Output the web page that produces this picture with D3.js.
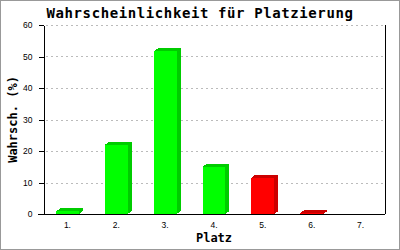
<!DOCTYPE html>
<html lang="de">
<head>
<meta charset="UTF-8">
<title>Wahrscheinlichkeit für Platzierung</title>
<script src="https://d3js.org/d3.v7.min.js"></script>
<style>
    body { margin: 0; background: #fff; }
    svg { display: block; font-family: "DejaVu Sans Mono", monospace; }
    .tick text { font-size: 8.5px; fill: #000; }
</style>
</head>
<body>
<svg width="400" height="250"></svg>
<script>
    // Werte
    const places = ["1.", "2.", "3.", "4.", "5.", "6.", "7."];
    const probs = [0.8, 21.9, 51.6, 15.0, 11.5, 0.3, 0];
    const yTicks = [0, 10, 20, 30, 40, 50, 60];
    const greenPlaces = 4; // Plätze 1-4 grün, Rest rot

    const W = 400, H = 250;
    const m = { left: 43, right: 385, top: 25, bottom: 214 };
    const depthX = 4, depthY = 3;

    const svg = d3.select("svg");

    // Rahmen
    svg.append("rect")
        .attr("x", 0.5).attr("y", 0.5)
        .attr("width", W - 1).attr("height", H - 1)
        .attr("fill", "#fff").attr("stroke", "#999");

    const x = d3.scaleBand()
        .domain(places)
        .range([m.left, m.right])
        .paddingInner(0.53)
        .paddingOuter(0.265);

    const y = d3.scaleLinear().domain([0, 60]).range([m.bottom, m.top]);

    // Gitterlinien
    svg.append("g")
        .selectAll("line")
        .data(yTicks.filter(d => d > 0))
        .enter()
        .append("line")
        .attr("x1", m.left + 3).attr("x2", m.right - 1)
        .attr("y1", d => Math.round(y(d)) + 0.5)
        .attr("y2", d => Math.round(y(d)) + 0.5)
        .attr("stroke", "#bbb")
        .attr("stroke-dasharray", "2,3");

    // Balken (3D)
    const bars = svg.append("g")
        .attr("shape-rendering", "crispEdges")
        .selectAll("g")
        .data(places.map((p, i) => ({ p: p, v: probs[i], i: i })).filter(d => d.v > 0))
        .enter()
        .append("g");

    const front = d => d.i < greenPlaces ? "#00ff00" : "#ff0000";
    const dark = d => d.i < greenPlaces ? "#00cc00" : "#cc0000";

    // Seite
    bars.append("polygon")
        .attr("fill", dark)
        .attr("points", d => {
            const x1 = x(d.p) + x.bandwidth(), yt = y(d.v), yb = y(0);
            return [[x1, yt], [x1 + depthX, yt - depthY], [x1 + depthX, yb - depthY], [x1, yb]].join(" ");
        });
    // Deckel
    bars.append("polygon")
        .attr("fill", dark)
        .attr("points", d => {
            const x0 = x(d.p), x1 = x0 + x.bandwidth(), yt = y(d.v);
            return [[x0, yt], [x0 + depthX, yt - depthY], [x1 + depthX, yt - depthY], [x1, yt]].join(" ");
        });
    // Front
    bars.append("rect")
        .attr("fill", front)
        .attr("x", d => x(d.p))
        .attr("y", d => y(d.v))
        .attr("width", x.bandwidth())
        .attr("height", d => y(0) - y(d.v));

    // Y-Achse
    const yAxis = svg.append("g")
        .attr("transform", `translate(${m.left + 0.5},0)`)
        .call(d3.axisLeft(y).tickValues(yTicks).tickSize(5).tickPadding(6).tickSizeOuter(0));
    yAxis.select(".domain").attr("stroke", "#000").attr("shape-rendering", "crispEdges");
    yAxis.selectAll(".tick line").attr("stroke", "#000").attr("shape-rendering", "crispEdges");

    // X-Achse
    const xAxis = svg.append("g")
        .attr("transform", `translate(0,${m.bottom + 0.5})`)
        .call(d3.axisBottom(x).tickSize(0).tickPadding(7).tickSizeOuter(0));
    xAxis.select(".domain").remove();
    svg.append("line")
        .attr("x1", m.left - 5).attr("x2", m.right)
        .attr("y1", m.bottom + 0.5).attr("y2", m.bottom + 0.5)
        .attr("stroke", "#000");

    // rechte Linie
    svg.append("line")
        .attr("x1", m.right + 0.5).attr("x2", m.right + 0.5)
        .attr("y1", m.top).attr("y2", m.bottom)
        .attr("stroke", "#000");

    // Titel und Beschriftungen
    svg.append("text")
        .attr("x", 200).attr("y", 17.5)
        .attr("text-anchor", "middle")
        .attr("font-size", 14).attr("font-weight", "bold")
        .attr("letter-spacing", 0.6)
        .text("Wahrscheinlichkeit für Platzierung");

    svg.append("text")
        .attr("x", (m.left + m.right) / 2).attr("y", 242)
        .attr("text-anchor", "middle")
        .attr("font-size", 12).attr("font-weight", "bold")
        .text("Platz");

    svg.append("text")
        .attr("transform", `translate(17,${(m.top + m.bottom) / 2}) rotate(-90)`)
        .attr("text-anchor", "middle")
        .attr("font-size", 12).attr("font-weight", "bold")
        .text("Wahrsch. (%)");
</script>
</body>
</html>
